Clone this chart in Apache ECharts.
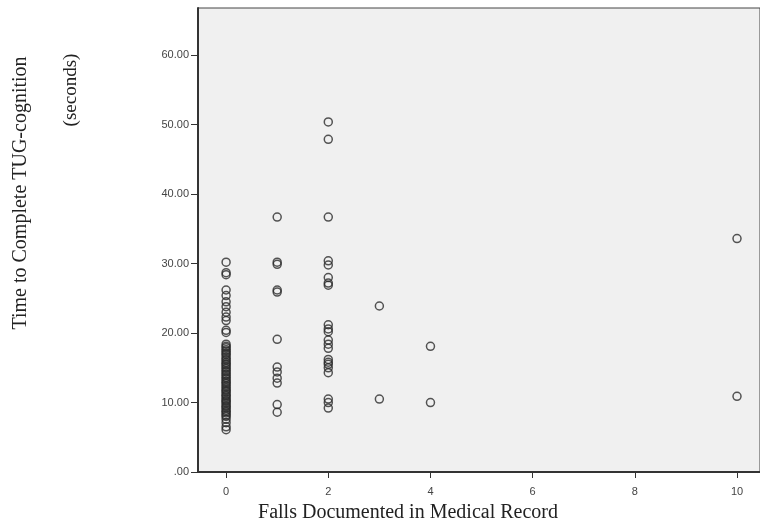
<!DOCTYPE html>
<html>
<head>
<meta charset="utf-8">
<script src="https://cdn.jsdelivr.net/npm/echarts@6/dist/echarts.min.js"></script>
<style>
  html, body { margin: 0; padding: 0; background: #fff; }
  #chart { width: 760px; height: 529px; }
</style>
</head>
<body>
<div id="chart"></div>
<script>
// falls documented (x) and TUG-cognition times (y), one array per x value
var fallsValues = [0, 1, 2, 3, 4, 10]
var timesAt0 = [30.2, 28.7, 28.4, 26.2, 25.4, 24.5, 23.8, 23.0, 22.3, 21.8, 20.4, 20.1,
  18.4, 18.1, 17.9, 17.6, 17.4, 17.1, 16.9, 16.6, 16.3, 16.1, 15.8, 15.6, 15.4, 15.1,
  14.9, 14.6, 14.4, 14.1, 13.9, 13.6, 13.4, 13.1, 12.9, 12.7, 12.4, 12.2, 11.9, 11.7,
  11.5, 11.2, 11.0, 10.8, 10.5, 10.3, 10.1, 9.9, 9.6, 9.4, 9.2, 8.9, 8.7, 8.5, 8.2,
  8.0, 7.6, 7.1, 6.5, 6.1]
var timesAt1 = [36.7, 30.2, 29.9, 26.2, 25.9, 19.1, 15.1, 14.4, 13.5, 12.8, 9.7, 8.6]
var timesAt2 = [50.4, 47.9, 36.7, 30.4, 29.8, 28.0, 27.2, 26.9, 21.2, 20.6, 20.2, 19.0,
  18.4, 17.8, 16.2, 15.8, 15.5, 15.0, 14.3, 10.5, 10.0, 9.2]
var timesAt3 = [23.9, 10.5]
var timesAt4 = [18.1, 10.0]
var timesAt10 = [33.6, 10.9]
var xTicks = [0, 2, 4, 6, 8, 10]
var yTicks = [0, 10, 20, 30, 40, 50, 60]

var groups = [timesAt0, timesAt1, timesAt2, timesAt3, timesAt4, timesAt10]
var points = []
groups.forEach(function (arr, i) {
  arr.forEach(function (t) {
    points.push([fallsValues[i], t])
  })
})

var myChart = echarts.init(document.getElementById('chart'))
var option = {
  animation: false,
  grid: {
    left: 198,
    top: 8,
    bottom: 57,
    right: -2,
    show: true,
    backgroundColor: '#f0f0f0',
    borderColor: '#444',
    borderWidth: 1
  },
  xAxis: {
    type: 'value',
    min: -0.55,
    max: 10.45,
    splitLine: { show: false },
    axisLine: { show: true, onZero: false, lineStyle: { color: '#333', width: 2 } },
    axisTick: {
      show: true,
      customValues: xTicks,
      length: 6,
      lineStyle: { color: '#333', width: 1 }
    },
    axisLabel: {
      customValues: xTicks,
      color: '#444',
      fontFamily: 'Liberation Sans',
      fontSize: 11,
      margin: 14
    }
  },
  yAxis: {
    type: 'value',
    min: 0,
    max: 66.8,
    splitLine: { show: false },
    axisLine: { show: true, onZero: false, lineStyle: { color: '#333', width: 2 } },
    axisTick: {
      show: true,
      customValues: yTicks,
      length: 7,
      lineStyle: { color: '#333', width: 1 }
    },
    axisLabel: {
      customValues: yTicks,
      color: '#444',
      fontFamily: 'Liberation Sans',
      fontSize: 11,
      margin: 9,
      formatter: function (v) {
        var s = v.toFixed(2)
        return s.charAt(0) === '0' ? s.slice(1) : s
      }
    }
  },
  graphic: [
    {
      type: 'text',
      x: 21,
      y: 193,
      rotation: Math.PI / 2,
      style: {
        text: 'Time to Complete TUG-cognition',
        font: '20px "Liberation Serif"',
        fill: '#222',
        align: 'center',
        verticalAlign: 'middle'
      }
    },
    {
      type: 'text',
      x: 71,
      y: 90,
      rotation: Math.PI / 2,
      style: {
        text: '(seconds)',
        font: '19px "Liberation Serif"',
        fill: '#222',
        align: 'center',
        verticalAlign: 'middle'
      }
    },
    {
      type: 'text',
      x: 408,
      y: 513,
      style: {
        text: 'Falls Documented in Medical Record',
        font: '20px "Liberation Serif"',
        fill: '#222',
        align: 'center',
        verticalAlign: 'middle'
      }
    }
  ],
  series: [
    {
      type: 'scatter',
      data: points,
      symbol: 'circle',
      symbolSize: 8,
      itemStyle: {
        color: 'rgba(0,0,0,0)',
        borderColor: '#2a2a2a',
        borderWidth: 1.5
      }
    }
  ]
}
myChart.setOption(option)
</script>
</body>
</html>
